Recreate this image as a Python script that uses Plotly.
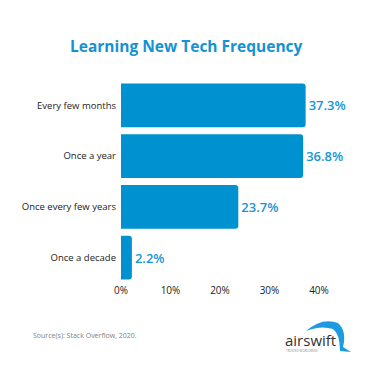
import plotly.graph_objects as go

categories = ["Every few months", "Once a year", "Once every few years", "Once a decade"]
values = [37.3, 36.8, 23.7, 2.2]
x_ticks = [0, 10, 20, 30, 40]
x_tick_labels = ["0%", "10%", "20%", "30%", "40%"]
title_text = "Learning New Tech Frequency"
source_text = "Source(s): Stack Overflow, 2020."

W, H = 372, 372
ml, mr, mt, mb = 121, 53, 80, 89
pw = W - ml - mr
ph = H - mt - mb

def py(y):
    return (H - y - mb) / ph

def px(x):
    return (x - ml) / pw

def pt(x, y):
    return f"{px(x):.4f},{py(y):.4f}"

swoosh = (f"M {pt(306,331)} Q {pt(322,317)} {pt(338,323)} Q {pt(347,331)} {pt(343,347)} "
          f"L {pt(351,352)} L {pt(340,351)} Q {pt(340,334)} {pt(333,329)} Q {pt(321,325)} {pt(306,331)} Z")

fig = go.Figure(go.Bar(
    x=values, y=categories, orientation="h",
    marker=dict(color="#0091d1", line=dict(width=0)),
    text=[f"{v:.1f}%" for v in values],
    textposition="outside",
    textfont=dict(family="Open Sans", size=13, color="#1596d4", weight=600),
    cliponaxis=False,
))

fig.update_layout(
    width=W, height=H,
    margin=dict(l=ml, r=mr, t=mt, b=mb),
    paper_bgcolor="white", plot_bgcolor="white",
    bargap=0.14,
    barcornerradius=3,
    showlegend=False,
    xaxis=dict(range=[0, 40], tickvals=x_ticks, ticktext=x_tick_labels,
               showgrid=False, zeroline=False, showline=False, fixedrange=True,
               automargin=False,
               tickfont=dict(family="Open Sans", size=10, color="#222222"),
               ticklabelstandoff=0),
    yaxis=dict(autorange="reversed", showgrid=False, zeroline=False, showline=False,
               automargin=False, fixedrange=True,
               tickfont=dict(family="Open Sans", size=9.5, color="#222222"),
               ticklabelstandoff=4),
    shapes=[dict(type="path", path=swoosh, xref="paper", yref="paper",
                 fillcolor="#1e9be0", line=dict(width=0), layer="above")],
    annotations=[
        dict(text=title_text, x=px(186), y=py(46), xref="paper", yref="paper",
             xanchor="center", yanchor="middle", showarrow=False,
             font=dict(family="Open Sans", size=15.5, color="#1592d2", weight="bold")),
        dict(text=source_text, x=px(31), y=py(335), xref="paper", yref="paper",
             xanchor="left", yanchor="middle", showarrow=False,
             font=dict(family="Open Sans", size=7, color="#808080")),
        dict(text="airswift", x=px(283), y=py(340), xref="paper", yref="paper",
             xanchor="left", yanchor="middle", showarrow=False,
             font=dict(family="Open Sans", size=15, color="#333333")),
        dict(text="TRUSTED WORLDWIDE", x=px(284), y=py(351), xref="paper", yref="paper",
             xanchor="left", yanchor="middle", showarrow=False,
             font=dict(family="Open Sans", size=3, color="#888888")),
    ],
)

fig.write_html("out.html", config={"displayModeBar": False},
               post_script="document.body.style.margin='0';")
